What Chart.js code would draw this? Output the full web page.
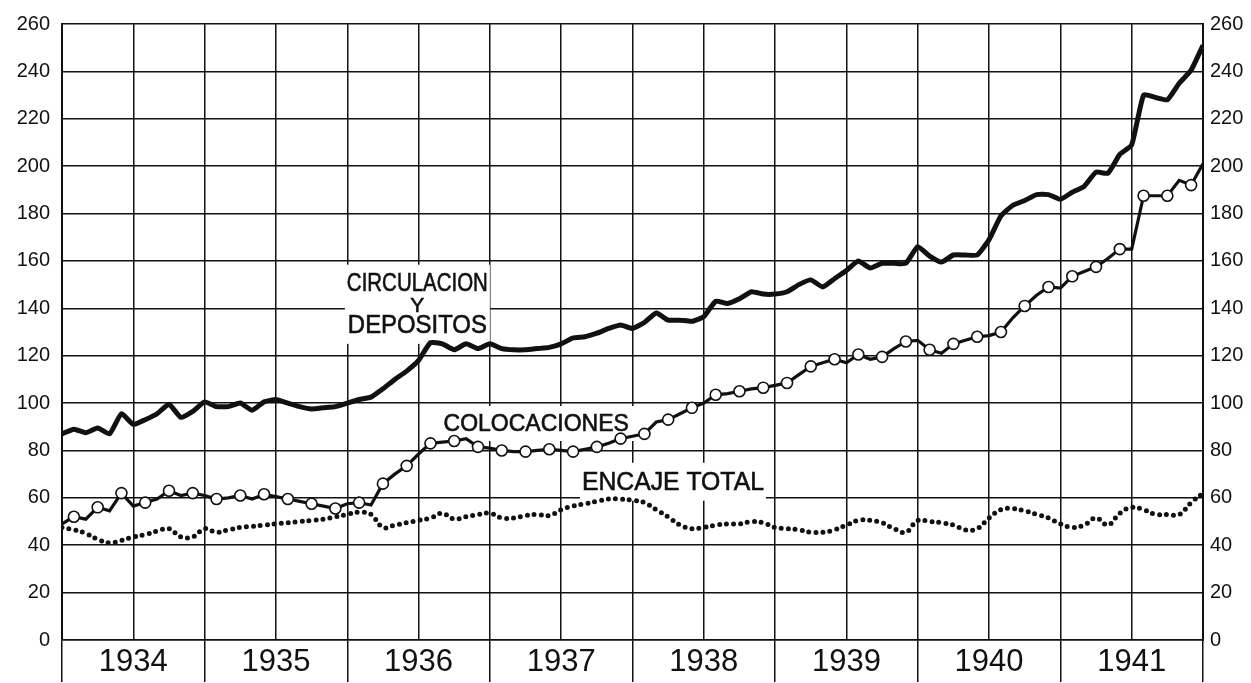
<!DOCTYPE html>
<html>
<head>
<meta charset="utf-8">
<script src="https://cdn.jsdelivr.net/npm/chart.js@4"></script>
<style>
  html, body { margin: 0; padding: 0; background: #fff; }
  #wrap { width: 1251px; height: 683px; }
</style>
</head>
<body>
<div id="wrap"><canvas id="chart" width="1251" height="683"></canvas></div>
<script>
// años del eje x (cada año = 12 meses)
const years = ['1934', '1935', '1936', '1937', '1938', '1939', '1940', '1941'];

// valores mensuales (ene 1934 ... ene 1942)
const circulacion = [
  87, 89, 87.5, 89.5, 87, 95.5, 91, 93, 95.5, 99.5, 94, 96.5,
  100.5, 98.5, 98.5, 100, 97, 100.5, 101.5, 100, 98.5, 97.5, 98, 98.5,
  100, 101.5, 102.5, 106, 110, 113.5, 118, 125.5, 125, 122.5, 125, 123,
  125, 123, 122.5, 122.5, 123, 123.5, 125, 127.5, 128, 129.5, 131.5, 133,
  131.5, 134, 138, 135, 135, 134.5, 136.5, 143, 142, 144, 147, 146,
  146, 147, 150, 152, 149, 152.5, 156, 160, 157, 159, 159, 159,
  166, 162, 159.5, 162.5, 162.5, 162.5, 169, 179, 183.5, 185.5, 188, 188,
  186, 189, 191.5, 197.5, 197, 205, 209, 230, 229, 228, 235, 240.5,
  251
];

const colocaciones = [
  49, 52, 51, 56, 54.5, 62, 56.5, 58, 59.5, 63, 61, 62,
  61, 59.5, 60, 61, 59.5, 61.5, 60.5, 59.5, 58.5, 57.5, 56.5, 55.5,
  57.5, 58, 57, 66, 70, 73.5, 78.5, 83, 83.5, 84, 85, 81.5,
  81, 80, 79.5, 79.5, 80, 80.5, 80, 79.5, 80.5, 81.5, 83, 85,
  86, 87, 92, 93, 95.5, 98, 100, 103.5, 104, 105, 106, 106.5,
  107.5, 108.5, 112, 115.5, 117, 118.5, 117, 120.5, 118.5, 119.5, 123, 126,
  126.5, 122.5, 121, 125, 126.5, 128, 128.5, 130, 136, 141, 145.5, 149,
  148.5, 153.5, 155.5, 157.5, 161, 165, 165, 187.5, 187.5, 187.5, 194, 192,
  201
];

const encaje = [
  47.5, 46.5, 45, 42.5, 41, 42, 43.5, 44.5, 46, 47, 43.5, 43.5,
  47, 45.5, 46.5, 47.5, 48, 48.5, 49, 49.5, 50, 50.5, 51, 52,
  53, 54, 53, 47.5, 48.5, 49.5, 50.5, 51.5, 53.5, 51, 52, 53,
  53.5, 51.5, 51.5, 52.5, 53, 52.5, 55, 56.5, 57.5, 58.5, 59.5, 59.5,
  59, 58, 55, 52, 48.5, 47, 47.5, 48.5, 49, 49, 50, 49.5,
  47.5, 47, 46.5, 45.5, 45.5, 46.5, 48.5, 50.5, 50.5, 49.5, 47, 45.5,
  50.5, 50, 49.5, 48.5, 46.5, 47, 51.5, 55, 55.5, 54.5, 53, 51.5,
  49, 47.5, 48.5, 51.5, 48.5, 53.5, 56, 55, 53, 53, 53, 58,
  62
];

// rotulos dentro del grafico: [texto, mes, valor]
const rotulos = [
  ['CIRCULACION', 29.9, 150.6],
  ['Y', 29.9, 141.4],
  ['DEPOSITOS', 29.9, 132.8],
  ['COLOCACIONES', 39.9, 91.4],
  ['ENCAJE TOTAL', 51.4, 66.8]
];

const toXY = arr => arr.map((v, i) => ({ x: i, y: v }));
const INK = '#111';
const FONT = '"Liberation Sans", Arial, sans-serif';

// cajas blancas + texto sobre la grilla
const labelPlugin = {
  id: 'rotulos',
  beforeDatasetsDraw(chart) {
    const { ctx, scales } = chart;
    const boxes = [
      ['CIRCULACION', 'Y', 'DEPOSITOS'],
      ['COLOCACIONES'],
      ['ENCAJE TOTAL']
    ];
    const style = {
      'CIRCULACION': { size: 25, w: 141 },
      'Y': { size: 21, w: 20 },
      'DEPOSITOS': { size: 25, w: 139 },
      'COLOCACIONES': { size: 23, w: 196 },
      'ENCAJE TOTAL': { size: 26, w: 182 }
    };
    ctx.save();
    // fondo blanco
    ctx.fillStyle = '#fff';
    boxes.forEach(group => {
      const items = rotulos.filter(r => group.includes(r[0]));
      let x0 = Infinity, x1 = -Infinity, y0 = Infinity, y1 = -Infinity;
      items.forEach(r => {
        const s = style[r[0]];
        const cx = scales.x.getPixelForValue(r[1]);
        const cy = scales.y.getPixelForValue(r[2]);
        x0 = Math.min(x0, cx - s.w / 2 - 2);
        x1 = Math.max(x1, cx + s.w / 2 + 2);
        y0 = Math.min(y0, cy - s.size * 0.5 - 6);
        y1 = Math.max(y1, cy + s.size * 0.5 + 6);
      });
      ctx.fillRect(x0, y0, x1 - x0, y1 - y0);
    });
    // texto
    ctx.fillStyle = INK;
    ctx.strokeStyle = INK;
    ctx.lineWidth = 0.6;
    ctx.textAlign = 'center';
    ctx.textBaseline = 'middle';
    rotulos.forEach(r => {
      const s = style[r[0]];
      const x = scales.x.getPixelForValue(r[1]);
      const y = scales.y.getPixelForValue(r[2]) + 1;
      ctx.font = s.size + 'px ' + FONT;
      ctx.fillText(r[0], x, y, s.w);
      ctx.strokeText(r[0], x, y, s.w);
    });
    ctx.restore();
  }
};

new Chart(document.getElementById('chart'), {
  type: 'line',
  data: {
    datasets: [
      {
        label: 'Encaje total',
        data: toXY(encaje),
        borderColor: INK,
        borderWidth: 5,
        borderDash: [0, 7],
        borderCapStyle: 'round',
        pointRadius: 0,
        tension: 0.4,
        fill: false
      },
      {
        label: 'Colocaciones',
        data: toXY(colocaciones),
        borderColor: INK,
        borderWidth: 3.2,
        pointRadius: colocaciones.map((v, i) => (i % 2 === 1 ? 5.5 : 0)),
        pointBackgroundColor: '#fff',
        pointBorderColor: INK,
        pointBorderWidth: 1.6,
        tension: 0,
        fill: false
      },
      {
        label: 'Circulacion y depositos',
        data: toXY(circulacion),
        borderColor: INK,
        borderWidth: 5,
        pointRadius: 0,
        tension: 0.15,
        fill: false
      }
    ]
  },
  options: {
    responsive: false,
    animation: false,
    devicePixelRatio: 1,
    layout: { padding: { top: 19, left: 0, right: 0, bottom: 0 } },
    plugins: {
      legend: { display: false },
      tooltip: { enabled: false }
    },
    scales: {
      x: {
        type: 'linear',
        min: 0,
        max: 96,
        afterFit: s => { s.height = 43; },
        ticks: {
          stepSize: 6,
          autoSkip: false,
          maxRotation: 0,
          padding: -38,
          color: INK,
          font: { family: FONT, size: 31 },
          callback: v => (v % 12 === 6 ? years[(v - 6) / 12] : '')
        },
        grid: {
          color: INK,
          lineWidth: 1.5,
          tickLength: 42,
          tickColor: c => (c.tick && c.tick.value % 12 === 0 ? INK : 'rgba(0,0,0,0)'),
          tickWidth: 1.5
        },
        border: { color: INK, width: 1.5 }
      },
      y: {
        min: 0,
        max: 260,
        position: 'left',
        afterFit: s => { s.width = 62; },
        ticks: {
          stepSize: 20,
          padding: 12,
          color: INK,
          font: { family: FONT, size: 20 }
        },
        grid: { color: INK, lineWidth: 1.5, drawTicks: false },
        border: { color: INK, width: 2 }
      },
      y2: {
        min: 0,
        max: 260,
        position: 'right',
        afterFit: s => { s.width = 48; },
        ticks: {
          stepSize: 20,
          padding: 7,
          color: INK,
          font: { family: FONT, size: 20 }
        },
        grid: { drawOnChartArea: false, drawTicks: false },
        border: { color: INK, width: 2 }
      }
    }
  },
  plugins: [labelPlugin]
});
</script>
</body>
</html>
